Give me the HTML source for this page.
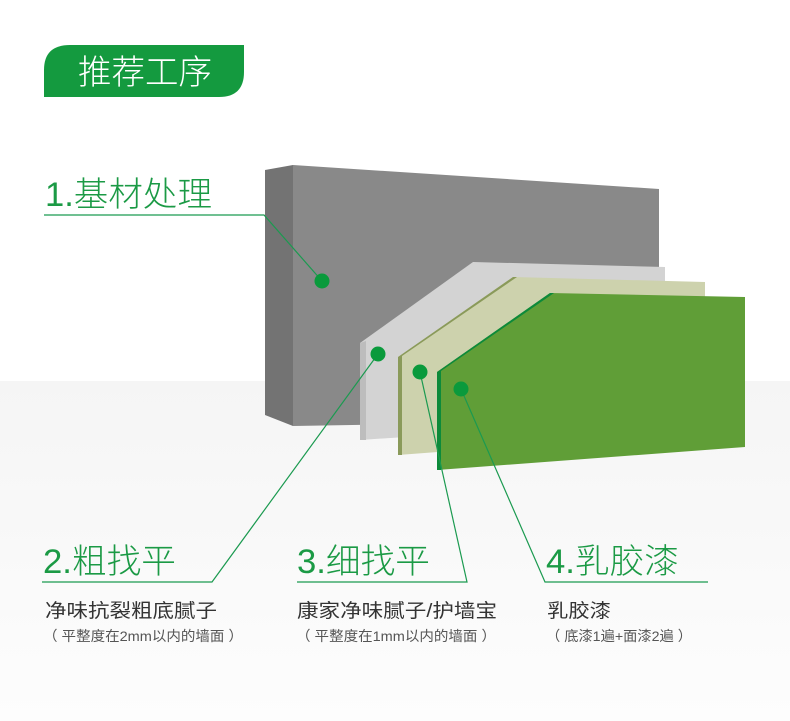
<!DOCTYPE html>
<html><head><meta charset="utf-8"><style>
body{margin:0;width:790px;height:721px;overflow:hidden;background:#fff;}
svg{display:block}
text{font-family:"Liberation Sans","Noto Sans CJK SC",sans-serif;}
</style></head><body>
<svg width="790" height="721" viewBox="0 0 790 721">
<defs>
<linearGradient id="bg" x1="0" y1="0" x2="0" y2="1">
<stop offset="0" stop-color="#f5f5f5"/><stop offset="1" stop-color="#fdfdfd"/>
</linearGradient>
</defs>
<rect x="0" y="0" width="790" height="721" fill="#fff"/>
<rect x="0" y="381" width="790" height="340" fill="url(#bg)"/>
<path d="M70 45 H244 V72 Q244 97 219 97 H44 V70 Q44 45 70 45 Z" fill="#149a3f"/>
<text x="78" y="84" font-size="34" fill="#fff" font-weight="300" textLength="134" lengthAdjust="spacingAndGlyphs">推荐工序</text>
<polygon points="265,170 293,165 293,426 265,415" fill="#737373"/>
<polygon points="293,165 659,189 659,420 293,426" fill="#898989"/>
<polygon points="360,343 473,262 665,267 665,420 360,440" fill="#d3d3d3"/>
<polygon points="360,343 366,341 366,440 360,440" fill="#bdbdbd"/>
<polygon points="398,357 513,277 705,282 705,432 398,455" fill="#cdd2ad"/>
<polygon points="398,357 513,277 517,277 402,356 402,455 398,455" fill="#8a9a5a"/>
<polygon points="437,372 550,293 745,297 745,447 437,470" fill="#609e37"/>
<polygon points="437,372 550,293 554,293 441,371 441,470 437,470" fill="#0d8a3a"/>
<g fill="#1b9a45" font-size="34" font-weight="300">
<text x="45" y="206" textLength="167" lengthAdjust="spacingAndGlyphs">1.基材处理</text>
<text x="43" y="573" textLength="133" lengthAdjust="spacingAndGlyphs">2.粗找平</text>
<text x="297" y="573" textLength="133" lengthAdjust="spacingAndGlyphs">3.细找平</text>
<text x="546" y="573" textLength="133" lengthAdjust="spacingAndGlyphs">4.乳胶漆</text>
</g>
<g stroke="#1b9a50" stroke-width="1.2" fill="none">
<polyline points="44,215 264,215 322,281"/>
<polyline points="42,582 212,582 378,354"/>
<polyline points="297,582 467,582 420,372"/>
<polyline points="708,582 545,582 461,389"/>
</g>
<g fill="#0a9a3c">
<circle cx="322" cy="281" r="7.5"/>
<circle cx="378" cy="354" r="7.5"/>
<circle cx="420" cy="372" r="7.5"/>
<circle cx="461" cy="389" r="7.5"/>
</g>
<g fill="#333" font-size="19">
<text x="45" y="617" textLength="172" lengthAdjust="spacingAndGlyphs">净味抗裂粗底腻子</text>
<text x="297" y="617" textLength="200" lengthAdjust="spacingAndGlyphs">康家净味腻子/护墙宝</text>
<text x="547" y="617" textLength="64" lengthAdjust="spacingAndGlyphs">乳胶漆</text>
</g>
<g fill="#555" font-size="14">
<text x="43" y="641" textLength="200" lengthAdjust="spacingAndGlyphs">（ 平整度在2mm以内的墙面 ）</text>
<text x="296" y="641" textLength="200" lengthAdjust="spacingAndGlyphs">（ 平整度在1mm以内的墙面 ）</text>
<text x="546" y="641" textLength="146" lengthAdjust="spacingAndGlyphs">（ 底漆1遍+面漆2遍 ）</text>
</g>
</svg>
</body></html>
